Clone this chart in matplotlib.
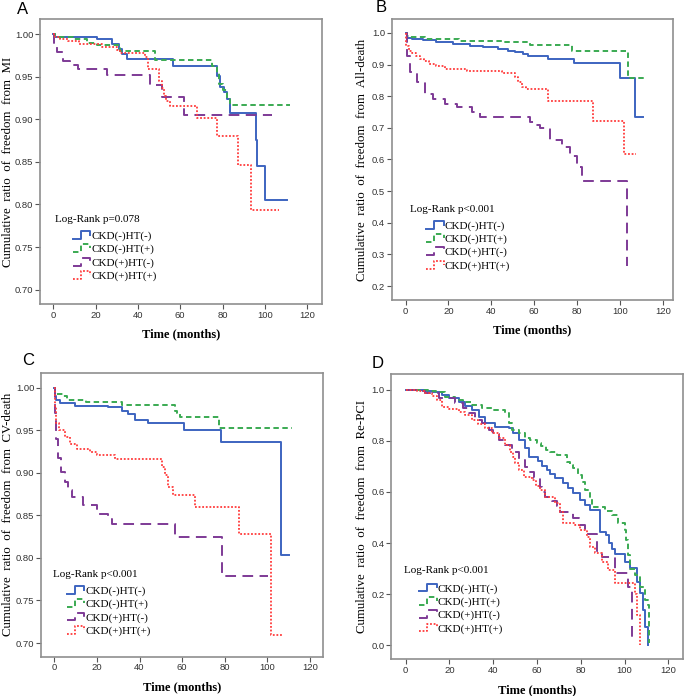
import matplotlib
matplotlib.use("Agg")
import matplotlib.pyplot as plt
import numpy as np
from matplotlib.lines import Line2D
from matplotlib.legend_handler import HandlerBase

# ---- data (time in months, cumulative ratio) ----
groups = ["CKD(-)HT(-)", "CKD(-)HT(+)", "CKD(+)HT(-)", "CKD(+)HT(+)"]

# A: freedom from MI
mi_blue = [(0, 1.0), (1, 0.997), (20.5, 0.994), (27.6, 0.989), (31, 0.983), (32.3, 0.977), (35, 0.971),
           (56.7, 0.963), (77.2, 0.951), (78.7, 0.938), (80.5, 0.932), (81.9, 0.924), (83.4, 0.908),
           (95.7, 0.876), (96.5, 0.845), (100, 0.805), (110.5, 0.805)]
mi_green = [(0, 1.0), (1, 0.997), (9.4, 0.994), (15.8, 0.990), (20.5, 0.987), (31.5, 0.980), (48, 0.970),
            (75.1, 0.963), (77.2, 0.955), (78.4, 0.942), (80.3, 0.934), (82, 0.925), (83.4, 0.917), (111.8, 0.917)]
mi_purple = [(0, 1.0), (0.5, 0.99), (1.6, 0.979), (4.7, 0.969), (7.9, 0.964), (11.8, 0.959), (25.5, 0.952),
             (45.7, 0.940), (51.5, 0.926), (62, 0.905), (103.2, 0.905)]
mi_red = [(0, 1.0), (1, 0.997), (3, 0.994), (7, 0.992), (12, 0.989), (23, 0.985), (30, 0.981), (31.5, 0.978),
          (43.3, 0.973), (44.9, 0.959), (50, 0.945), (51.2, 0.937), (52.3, 0.928), (53.2, 0.922), (55.1, 0.916),
          (67.7, 0.902), (77.2, 0.880), (87.4, 0.846), (93.5, 0.793), (106.9, 0.793)]

# B: freedom from all-cause death
ad_blue = [(0, 1.0), (0.5, 0.985), (3, 0.981), (8, 0.977), (14, 0.971), (22, 0.965), (30, 0.960), (36, 0.955),
           (43, 0.949), (48, 0.944), (51, 0.939), (55, 0.934), (57, 0.926), (66.6, 0.918), (78.7, 0.905),
           (100, 0.857), (107.2, 0.733), (111, 0.733)]
ad_green = [(0, 1.0), (0.5, 0.99), (1.4, 0.986), (9.2, 0.981), (24.7, 0.976), (45, 0.971), (58, 0.961),
            (77.5, 0.944), (103.9, 0.858), (111.7, 0.858)]
ad_purple = [(0, 1.0), (0.6, 0.928), (2.2, 0.876), (5.3, 0.844), (9.2, 0.807), (13, 0.791), (18.5, 0.775),
             (24, 0.765), (31, 0.749), (34.8, 0.733), (58, 0.717), (61, 0.71), (62.7, 0.70), (67.4, 0.662),
             (72.8, 0.638), (76.7, 0.612), (79.8, 0.575), (82.2, 0.533), (103.2, 0.264)]
ad_red = [(0, 1.0), (0.3, 0.96), (1.4, 0.944), (3, 0.935), (5, 0.926), (6.8, 0.918), (8.5, 0.91), (10.7, 0.902),
          (14, 0.894), (18.5, 0.886), (28.6, 0.879), (45, 0.872), (51, 0.860), (52.5, 0.845), (54.3, 0.83),
          (56, 0.822), (66.6, 0.784), (87.6, 0.722), (102, 0.618), (107.5, 0.618)]

# C: freedom from CV death
cv_blue = [(0, 1.0), (0.5, 0.99), (1, 0.986), (2.7, 0.982), (9.7, 0.979), (25, 0.977), (32, 0.973),
           (34.6, 0.969), (37.7, 0.962), (44, 0.958), (61.1, 0.950), (78.1, 0.936), (106.3, 0.803), (110, 0.803)]
cv_green = [(0, 1.0), (0.3, 0.993), (4, 0.99), (5.8, 0.986), (15, 0.983), (32, 0.980), (56.6, 0.973),
            (57.5, 0.970), (59, 0.966), (77.5, 0.953), (111.4, 0.953)]
cv_purple = [(0, 1.0), (0.5, 0.97), (0.8, 0.940), (1.9, 0.917), (3.1, 0.901), (5, 0.889), (6.6, 0.880),
             (8.2, 0.872), (13.6, 0.862), (19.9, 0.852), (25.3, 0.846), (27, 0.840), (56.6, 0.825),
             (78.5, 0.779), (100.4, 0.779)]
cv_red = [(0, 1.0), (0.3, 0.979), (0.8, 0.958), (2.3, 0.950), (5, 0.942), (7.4, 0.934), (10.5, 0.928),
          (16.8, 0.925), (20, 0.921), (28.5, 0.916), (50.4, 0.907), (52, 0.897), (53.4, 0.883), (55.8, 0.874),
          (66, 0.860), (86.7, 0.828), (101.5, 0.709), (106.7, 0.709)]

# D: freedom from re-PCI
rp_blue = [(0, 1.0), (9, 0.995), (12, 0.99), (16.6, 0.98), (20, 0.967), (24.2, 0.953), (27, 0.937), (30.3, 0.92),
           (33.4, 0.894), (36.4, 0.868), (41, 0.855), (47, 0.849), (49.2, 0.83), (51.6, 0.803), (54.7, 0.771),
           (56.2, 0.738), (60.6, 0.72), (62.5, 0.70), (64.4, 0.686), (66, 0.67), (68.2, 0.653), (72, 0.634),
           (74, 0.615), (76.6, 0.595), (79.7, 0.568), (82, 0.55), (84.2, 0.53), (88.8, 0.444), (91.5, 0.432),
           (93, 0.40), (94.2, 0.378), (95.7, 0.356), (100.2, 0.327), (102.5, 0.301), (105.6, 0.249),
           (107.1, 0.203), (108.6, 0.138), (109.4, 0.073), (110.9, 0.0)]
rp_green = [(0, 1.0), (10, 0.995), (14, 0.99), (18.1, 0.973), (22.7, 0.96), (26, 0.95), (30.3, 0.94), (35, 0.93),
            (39.4, 0.92), (45.5, 0.908), (47, 0.868), (48.6, 0.842), (51.6, 0.829), (54.7, 0.81), (56.8, 0.803),
            (60, 0.79), (62, 0.78), (64, 0.765), (66, 0.757), (69, 0.744), (73.6, 0.718), (75, 0.705),
            (76.6, 0.692), (78.9, 0.666), (80.4, 0.64), (81.9, 0.608), (84.2, 0.575), (85, 0.542), (91, 0.525),
            (94.1, 0.51), (97.2, 0.477), (100.2, 0.451), (100.9, 0.41), (101.7, 0.353), (102.5, 0.30),
            (104.8, 0.275), (107.1, 0.229), (109.4, 0.177), (110.9, 0.158), (111.4, 0.01)]
rp_purple = [(0, 1.0), (5, 0.995), (9, 0.986), (15.1, 0.966), (22.7, 0.947), (26, 0.93), (28.8, 0.908),
             (31.8, 0.881), (34.8, 0.868), (37.9, 0.842), (40, 0.825), (42.5, 0.803), (45.5, 0.784),
             (48.6, 0.757), (51.6, 0.725), (54.7, 0.699), (56.5, 0.679), (58.5, 0.655), (61.4, 0.62),
             (62.5, 0.60), (63.7, 0.581), (67, 0.565), (69, 0.545), (70.5, 0.523), (76.6, 0.497), (79, 0.471),
             (82, 0.435), (87.3, 0.37), (89.6, 0.347), (95.7, 0.284), (101.7, 0.226), (103.3, 0.008)]
rp_red = [(0, 1.0), (5, 0.995), (9, 0.986), (12, 0.975), (14.3, 0.96), (16.6, 0.934), (20, 0.925), (24.2, 0.914),
          (27, 0.90), (30.3, 0.881), (33, 0.865), (36.4, 0.849), (39.4, 0.829), (42.5, 0.81), (45.5, 0.784),
          (47.8, 0.757), (49, 0.735), (50.1, 0.712), (52, 0.685), (53.9, 0.66), (57.7, 0.647), (59.5, 0.625),
          (61.5, 0.607), (63.7, 0.581), (68.2, 0.556), (70.5, 0.523), (72, 0.477), (77.4, 0.471), (79.7, 0.451),
          (82.7, 0.425), (84.2, 0.386), (86.5, 0.36), (89.6, 0.327), (92.6, 0.295), (95.7, 0.243),
          (104.8, 0.20), (105.5, 0.119), (107.1, 0.0)]

# ---- styles ----
colors = ["#3D64C0", "#3AAA52", "#7E3A96", "#FF3B3B"]
dashes = [None, (2.8, 1.8), (5.5, 3.3), (1.0, 1.0)]
widths = [1.4, 1.4, 1.4, 1.3]

SERIF = "Liberation Serif"
SANS = "Liberation Sans"


class StepHandler(HandlerBase):
    # SPSS-like little step glyph in the legend
    def create_artists(self, legend, orig_handle, xdescent, ydescent, width, height, fontsize, trans):
        x0, y0 = -xdescent, -ydescent
        xs = [x0, x0 + 0.45 * width, x0 + 0.45 * width, x0 + width, x0 + width]
        ys = [y0, y0, y0 + height, y0 + height, y0 + 0.5 * height]
        ln = Line2D(xs, ys)
        ln.update_from(orig_handle)
        ln.set_data(xs, ys)
        ln.set_transform(trans)
        return [ln]


def draw_panel(ax, curves, ylim, xlim, yticks, yfmt, ylabel, logrank, title_pos, leg_pos, ylab_x):
    handles = []
    for (data, c, d, w, g) in zip(curves, colors, dashes, widths, groups):
        t = [p[0] for p in data]
        s = [p[1] for p in data]
        ln, = ax.plot(t, s, drawstyle="steps-post", color=c, lw=w, label=g)
        if d is not None:
            ln.set_dashes(d)
        handles.append(ln)

    ax.set_xlim(*xlim)
    ax.set_ylim(*ylim)
    ax.set_xticks(np.arange(0, 121, 20))
    ax.set_yticks(yticks)
    ax.set_yticklabels([yfmt % v for v in yticks])
    for lab in ax.get_xticklabels() + ax.get_yticklabels():
        lab.set_fontfamily(SANS)
        lab.set_fontsize(6.8)
        lab.set_color("#333333")
    ax.tick_params(direction="out", length=3.5, width=0.8, color="#555555", pad=1.2,
                   top=False, right=False)
    for sp in ax.spines.values():
        sp.set_color("#8f8f8f")
        sp.set_linewidth(1.2)

    ax.set_xlabel("Time (months)", fontfamily=SERIF, fontsize=9, fontweight="bold")
    ax.xaxis.set_label_coords(0.5, -0.086)
    ax.set_ylabel(ylabel, fontfamily=SERIF, fontsize=9.3)
    ax.yaxis.set_label_coords(ylab_x, 0.5)

    ax.text(title_pos[0], title_pos[1], logrank, transform=ax.transAxes,
            fontfamily=SERIF, fontsize=8, ha="left", va="center")
    ax.legend(handles=handles, handler_map={Line2D: StepHandler()}, loc="upper left",
              bbox_to_anchor=leg_pos, borderaxespad=0, borderpad=0, frameon=False,
              prop={"family": SERIF, "size": 8}, handlelength=1.6, handleheight=0.7,
              handletextpad=0.1, labelspacing=0.3)


fig = plt.figure(figsize=(6.85, 6.96), dpi=100)

axA = fig.add_axes([0.0584, 0.5632, 0.4116, 0.4095])
axB = fig.add_axes([0.5718, 0.5690, 0.4107, 0.4037])
axC = fig.add_axes([0.0594, 0.0565, 0.4117, 0.4080])
axD = fig.add_axes([0.5708, 0.0527, 0.4262, 0.4095])

draw_panel(axA, [mi_blue, mi_green, mi_purple, mi_red], (0.683, 1.018), (-6.3, 127),
           np.arange(0.70, 1.001, 0.05), "%.2f",
           "Cumulative  ratio  of  freedom  from  MI", "Log-Rank p=0.078", (0.053, 0.295), (0.116, 0.256),
           -0.092)
draw_panel(axB, [ad_blue, ad_green, ad_purple, ad_red], (0.156, 1.044), (-6.5, 124.8),
           np.arange(0.2, 1.001, 0.1), "%.1f",
           "Cumulative  ratio  of  freedom  from  All-death", "Log-Rank p<0.001", (0.065, 0.323),
           (0.122, 0.282), -0.084)
draw_panel(axC, [cv_blue, cv_green, cv_purple, cv_red], (0.684, 1.0176), (-6.4, 126),
           np.arange(0.70, 1.001, 0.05), "%.2f",
           "Cumulative  ratio  of  freedom  from  CV-death", "Log-Rank p<0.001", (0.045, 0.288),
           (0.092, 0.249), -0.095)
draw_panel(axD, [rp_blue, rp_green, rp_purple, rp_red], (-0.055, 1.06), (-6.7, 126.7),
           np.arange(0.0, 1.001, 0.2), "%.1f",
           "Cumulative  ratio  of  freedom  from  Re-PCI", "Log-Rank p<0.001", (0.045, 0.31),
           (0.096, 0.266), -0.080)

for letter, (x, y) in zip("ABCD", [(0.033, 0.9799), (0.557, 0.9832), (0.041, 0.4756), (0.552, 0.4708)]):
    fig.text(x, y, letter, fontfamily=SANS, fontsize=12, ha="center", va="baseline")

fig.savefig("out.png", dpi=100)
